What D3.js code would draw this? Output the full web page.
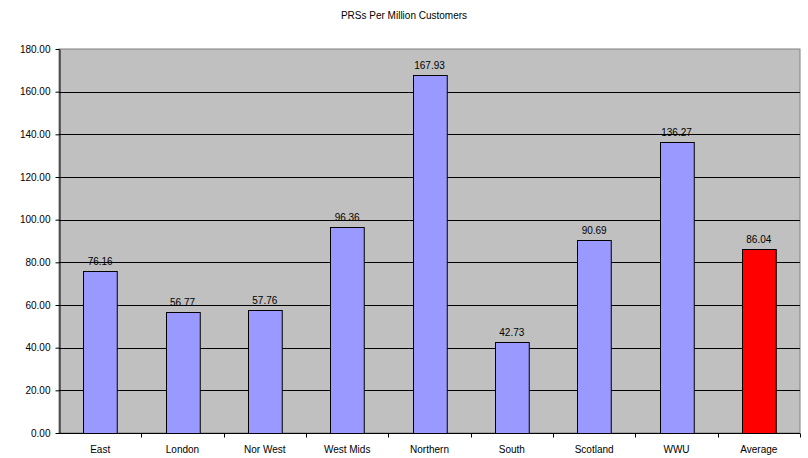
<!DOCTYPE html>
<html>
<head>
<meta charset="utf-8">
<script src="https://cdn.jsdelivr.net/npm/d3@7"></script>
<style>
  body { margin: 0; background: #fff; }
  text { font-family: "Liberation Sans", Arial, sans-serif; }
</style>
</head>
<body>
<div id="chart-region"></div>
<script>
const categories = ["East", "London", "Nor West", "West Mids", "Northern", "South", "Scotland", "WWU", "Average"];
const values = [76.16, 56.77, 57.76, 96.36, 167.93, 42.73, 90.69, 136.27, 86.04];
const yTickValues = [0, 20, 40, 60, 80, 100, 120, 140, 160, 180];

const MARGIN = {LEFT: 59, RIGHT: 8, TOP: 49, DOWN: 25};
const WIDTH = 808 - MARGIN.LEFT - MARGIN.RIGHT;
const HEIGHT = 458 - MARGIN.TOP - MARGIN.DOWN;

const chart = d3.select("#chart-region").append("svg")
    .attr("width", 808)
    .attr("height", 458);

const g = chart.append("g").attr("transform", `translate(${MARGIN.LEFT}, ${MARGIN.TOP})`);

const xScale = d3.scaleBand().domain(categories).range([0, WIDTH]).paddingInner(0.59).paddingOuter(0.295);
const xBand = d3.scaleBand().domain(categories).range([0, WIDTH]);
const yScale = d3.scaleLinear().domain([0, 180]).range([HEIGHT, 0]);

// title
chart.append("text")
    .attr("x", 404)
    .attr("y", 19)
    .attr("text-anchor", "middle")
    .attr("font-size", "10px")
    .text("PRSs Per Million Customers");

// plot background
g.append("rect")
    .attr("width", WIDTH)
    .attr("height", HEIGHT)
    .attr("fill", "#c0c0c0")
    .attr("stroke", "#808080")
    .attr("stroke-width", 1);

// gridlines
g.append("g")
    .selectAll("line")
    .data(yTickValues.filter(d => d > 0 && d < 180))
    .enter()
    .append("line")
    .attr("x1", 0)
    .attr("x2", WIDTH)
    .attr("y1", d => Math.round(yScale(d)) + 0.5)
    .attr("y2", d => Math.round(yScale(d)) + 0.5)
    .attr("stroke", "#000")
    .attr("stroke-width", 1);

// bars
g.append("g")
    .selectAll("rect")
    .data(values)
    .enter()
    .append("rect")
    .attr("x", (d, i) => Math.round(xScale(categories[i])) + 0.5)
    .attr("y", d => Math.round(yScale(d)) + 0.5)
    .attr("width", xScale.bandwidth())
    .attr("height", d => HEIGHT - Math.round(yScale(d)))
    .attr("fill", (d, i) => categories[i] == "Average" ? "#ff0000" : "#9999ff")
    .attr("stroke", "#000")
    .attr("stroke-width", 1);

// value labels
g.append("g")
    .selectAll("text")
    .data(values)
    .enter()
    .append("text")
    .attr("x", (d, i) => xScale(categories[i]) + xScale.bandwidth() / 2)
    .attr("y", d => yScale(d) - 6)
    .attr("text-anchor", "middle")
    .attr("font-size", "10px")
    .text(d => d.toFixed(2));

// y axis
const yAxis = g.append("g")
    .attr("transform", "translate(0.5, 0)")
    .call(d3.axisLeft(yScale).tickValues(yTickValues).tickFormat(d => d.toFixed(2)).tickSize(4).tickSizeOuter(0));
yAxis.selectAll("text").attr("font-size", "10px").attr("font-family", "Liberation Sans, Arial, sans-serif").attr("fill", "#000").attr("dx", "-2");
yAxis.selectAll("line").attr("stroke", "#000");
yAxis.select(".domain").attr("stroke", "#000");

// x axis
const xAxis = g.append("g")
    .attr("transform", `translate(0, ${HEIGHT + 0.5})`);
xAxis.append("line")
    .attr("x1", 0).attr("x2", WIDTH)
    .attr("stroke", "#000");
xAxis.selectAll(".tick")
    .data(categories)
    .enter()
    .append("line")
    .attr("x1", d => Math.round(xBand(d) + xBand.bandwidth()) + 0.5)
    .attr("x2", d => Math.round(xBand(d) + xBand.bandwidth()) + 0.5)
    .attr("y1", 0)
    .attr("y2", 4)
    .attr("stroke", "#000");
xAxis.selectAll("text")
    .data(categories)
    .enter()
    .append("text")
    .attr("x", d => xBand(d) + xBand.bandwidth() / 2)
    .attr("y", 19)
    .attr("text-anchor", "middle")
    .attr("font-size", "10px")
    .text(d => d);
</script>
</body>
</html>
